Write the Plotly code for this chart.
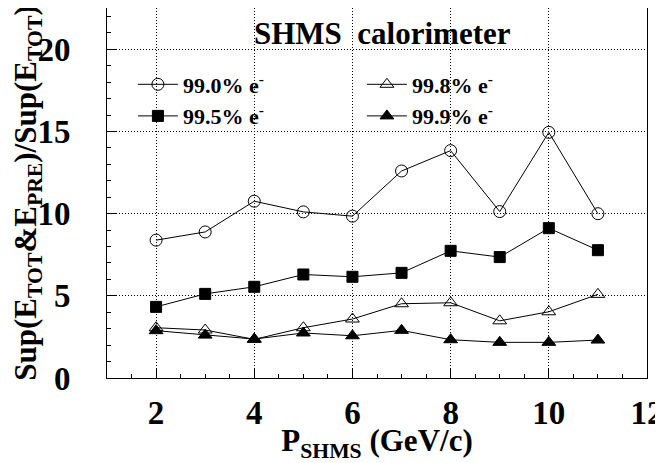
import plotly.graph_objects as go

# momentum points (GeV/c)
p_shms = [2, 3, 4, 5, 6, 7, 8, 9, 10, 11]

# suppression ratio for each electron efficiency cut
sup_990 = [8.39, 8.89, 10.76, 10.11, 9.85, 12.6, 13.84, 10.13, 14.95, 10.0]
sup_995 = [4.33, 5.12, 5.55, 6.3, 6.16, 6.4, 7.74, 7.36, 9.12, 7.78]
sup_998 = [3.06, 2.92, 2.35, 3.06, 3.59, 4.52, 4.58, 3.48, 4.03, 5.09]
sup_999 = [2.88, 2.61, 2.37, 2.74, 2.57, 2.9, 2.33, 2.17, 2.17, 2.31]

labels = ["99.0% e<sup>-</sup>", "99.5% e<sup>-</sup>",
          "99.8% e<sup>-</sup>", "99.9% e<sup>-</sup>"]

FONT = "Liberation Serif, Times New Roman, serif"

fig = go.Figure()
series = [
    (sup_990, labels[0], "circle-open", 12, 1),
    (sup_998, labels[2], "triangle-up-open", 12, 2),
    (sup_995, labels[1], "square", 11, 3),
    (sup_999, labels[3], "triangle-up", 12, 4),
]
for ys, name, sym, size, rank in series:
    fig.add_scatter(
        x=p_shms, y=ys, name="<b>" + name + "</b>", mode="lines+markers",
        legendrank=rank,
        line=dict(color="black", width=1),
        marker=dict(symbol=sym, size=size, color="black",
                    line=dict(color="black", width=1)),
    )

fig.add_annotation(
    text="<b>SHMS  calorimeter</b>", xref="paper", yref="paper",
    x=0.511, y=0.932, xanchor="center", yanchor="middle", showarrow=False,
    font=dict(family=FONT, size=31, color="black"),
)

axis_common = dict(
    showline=True, linecolor="black", linewidth=1, mirror=True,
    ticks="inside", tickcolor="black", ticklen=9,
    showgrid=True, gridcolor="black", griddash="1px,2px", gridwidth=1,
    zeroline=False, automargin=False, ticklabeloverflow="allow",
    tickfont=dict(family=FONT, size=33, color="black"),
    tickprefix="<b>", ticksuffix="</b>",
)

fig.update_xaxes(
    range=[1, 12], tick0=0, dtick=2, ticklabelstandoff=5,
    minor=dict(dtick=0.5, ticks="inside", ticklen=4, tickcolor="black"),
    title=dict(text="<b>P<sub>SHMS</sub> (GeV/c)</b>", standoff=21,
               font=dict(family=FONT, size=31, color="black")),
    **axis_common,
)
fig.update_yaxes(
    range=[0, 22.52], tick0=0, dtick=5, ticklabelstandoff=29,
    minor=dict(dtick=1, ticks="inside", ticklen=4, tickcolor="black"),
    title=dict(text="<b>Sup(E<sub>TOT</sub>&E<sub>PRE</sub>)/Sup(E<sub>TOT</sub>)</b>",
               standoff=0, font=dict(family=FONT, size=31, color="black")),
    **axis_common,
)

# the page body adds an 8px offset, so the figure is sized to fit inside it
fig.update_layout(
    width=655, height=455,
    margin=dict(l=99, r=16, t=0, b=85),
    paper_bgcolor="white", plot_bgcolor="white",
    legend=dict(
        orientation="h", x=0.048, y=0.85, xanchor="left", yanchor="top",
        entrywidth=174, entrywidthmode="pixels", itemwidth=40,
        bgcolor="rgba(0,0,0,0)",
        font=dict(family=FONT, size=22, color="black"),
    ),
    showlegend=True,
)

fig.write_html("out.html")
